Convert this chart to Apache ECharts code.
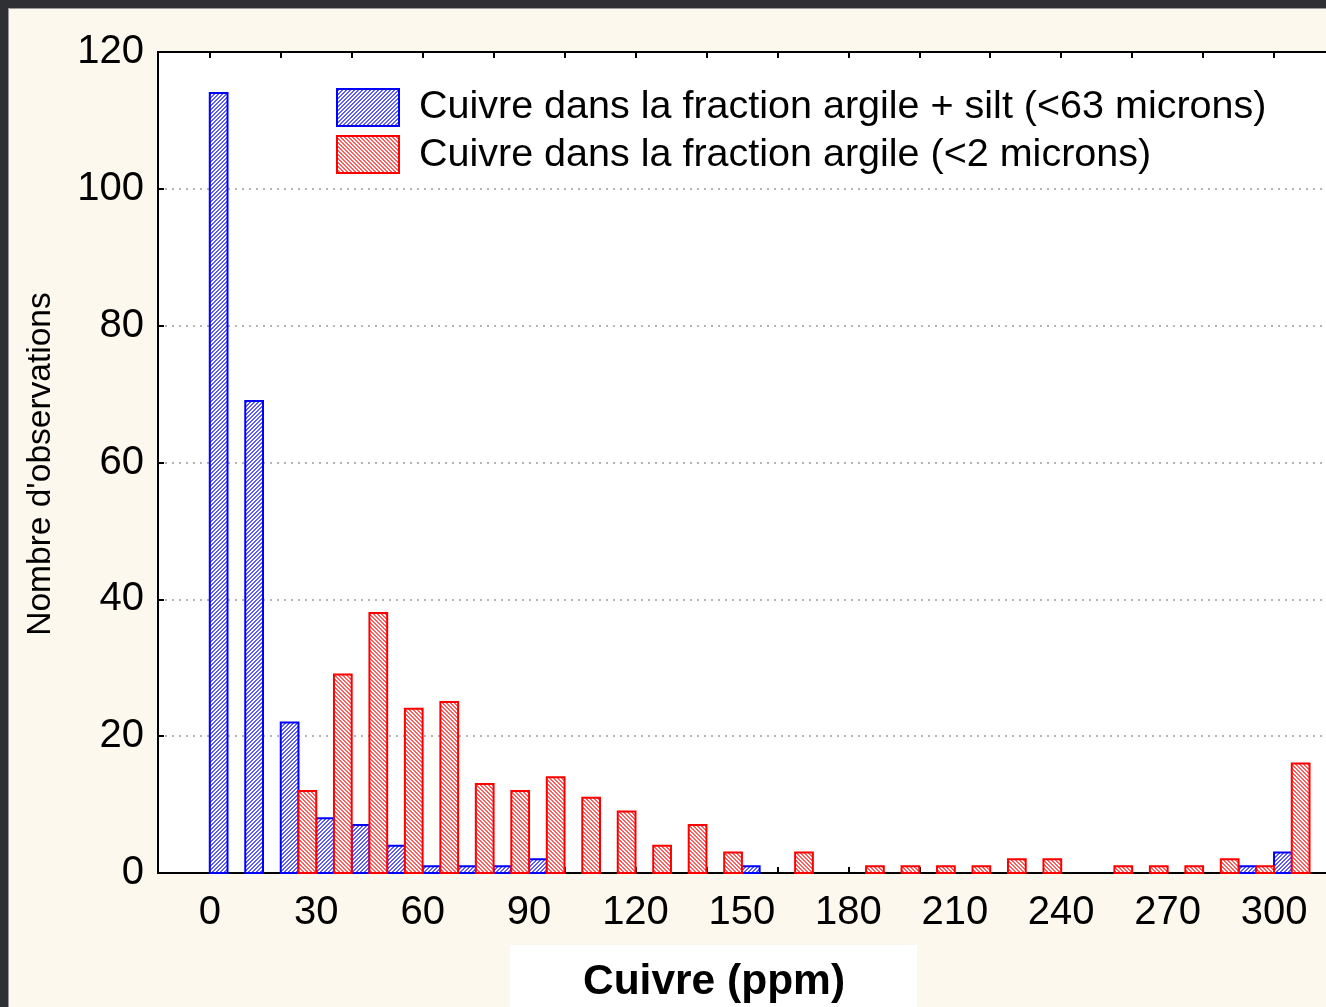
<!DOCTYPE html>
<html>
<head>
<meta charset="utf-8">
<script src="https://cdn.jsdelivr.net/npm/echarts@6/dist/echarts.min.js"></script>
<style>
  html, body { margin: 0; padding: 0; background: #fdf8ee; overflow: hidden; }
  /* plot frame runs past the right edge of the window, as in the source */
  #chart { width: 1345px; height: 1007px; }
</style>
</head>
<body>
<div id="chart"></div>
<script>
// histogram bins (lower edge, ppm), 10 ppm wide
const binStart = [0, 10, 20, 30, 40, 50, 60, 70, 80, 90, 100, 110, 120, 130, 140, 150,
  160, 170, 180, 190, 200, 210, 220, 230, 240, 250, 260, 270, 280, 290, 300];
// Cuivre dans la fraction argile + silt (<63 microns)
const siltClay = [114, 69, 22, 8, 7, 4, 1, 1, 1, 2, 0, 0, 0, 0, 0, 1,
  0, 0, 0, 0, 0, 0, 0, 0, 0, 0, 0, 0, 0, 1, 3];
// Cuivre dans la fraction argile (<2 microns)
const clay = [0, 0, 12, 29, 38, 24, 25, 13, 12, 14, 11, 9, 4, 7, 3, 0,
  3, 0, 1, 1, 1, 1, 2, 2, 0, 1, 1, 1, 2, 1, 16];
const xLabels = [0, 30, 60, 90, 120, 150, 180, 210, 240, 270, 300];
const xTicks = [0, 20, 40, 60, 80, 100, 120, 140, 160, 180, 200, 220, 240, 260, 280, 300, 320];
const seriesNames = [
  "Cuivre dans la fraction argile + silt (<63 microns)",
  "Cuivre dans la fraction argile (<2 microns)"
];

const FONT = "'Liberation Sans', Arial, sans-serif";
const HALF = 5; // each series takes half of a bin

// diagonal hatch tile, 4px period, stripes 2px thick
function hatch(color, rising) {
  const c = document.createElement("canvas");
  c.width = c.height = 4;
  const ctx = c.getContext("2d");
  ctx.fillStyle = "#fff";
  ctx.fillRect(0, 0, 4, 4);
  ctx.fillStyle = color;
  for (let i = 0; i < 4; i++) {
    const y = rising ? 3 - i : i;
    ctx.fillRect(i, y, 1, 1);
    ctx.fillRect(i, (y + 1) % 4, 1, 1);
  }
  return { image: c, repeat: "repeat" };
}

const bluePat = hatch("#5c5cff", true);
const redPat = hatch("#ff5c5c", false);

function barRenderer(offset, pattern, stroke) {
  return function (params, api) {
    const v = api.value(1);
    if (!v) return;
    const x0 = api.value(0) + offset;
    const p0 = api.coord([x0, 0]);
    const p1 = api.coord([x0 + HALF, v]);
    return {
      type: "rect",
      shape: { x: p0[0], y: p1[1], width: p1[0] - p0[0], height: p0[1] - p1[1] },
      style: { fill: pattern, stroke: stroke, lineWidth: 2 }
    };
  };
}

const chart = echarts.init(document.getElementById("chart"));

const xBase = {
  type: "value",
  min: -14.6,
  max: 320,
  splitLine: { show: false }
};
const tickStyle = { color: "#000", width: 2 };

chart.setOption({
  backgroundColor: "#fdf8ee",
  animation: false,
  grid: {
    left: 158, top: 52, right: 0, bottom: 134,
    show: true, backgroundColor: "#fff", borderColor: "#000", borderWidth: 2
  },
  xAxis: [
    Object.assign({}, xBase, {
      position: "bottom",
      axisLine: { show: true, onZero: false, lineStyle: tickStyle },
      axisTick: { show: true, inside: true, length: 6, customValues: xTicks, lineStyle: tickStyle },
      axisLabel: { customValues: xLabels, fontSize: 40, color: "#000", margin: 20, fontFamily: FONT }
    }),
    Object.assign({}, xBase, {
      position: "top",
      axisLine: { show: true, onZero: false, lineStyle: tickStyle },
      axisTick: { show: true, inside: true, length: 6, customValues: xTicks, lineStyle: tickStyle },
      axisLabel: { show: false }
    })
  ],
  yAxis: {
    type: "value",
    min: 0, max: 120, interval: 20,
    axisLine: { show: true, onZero: false, lineStyle: tickStyle },
    axisTick: { show: true, inside: true, length: 6, lineStyle: tickStyle },
    axisLabel: { fontSize: 40, color: "#000", margin: 14, fontFamily: FONT },
    splitLine: {
      show: true, showMinLine: false, showMaxLine: false,
      lineStyle: { type: [2, 5], color: "#b4b4b4", width: 2 }
    }
  },
  series: [
    {
      name: seriesNames[0],
      type: "custom",
      xAxisIndex: 0,
      encode: { x: 0, y: 1 },
      data: binStart.map((s, i) => [s, siltClay[i]]),
      renderItem: barRenderer(0, bluePat, "#0000ff")
    },
    {
      name: seriesNames[1],
      type: "custom",
      xAxisIndex: 0,
      encode: { x: 0, y: 1 },
      data: binStart.map((s, i) => [s, clay[i]]),
      renderItem: barRenderer(HALF, redPat, "#ff0000")
    }
  ],
  graphic: [
    // window frame
    { type: "rect", shape: { x: 0, y: 0, width: 1345, height: 8 }, style: { fill: "#2e3034" } },
    { type: "rect", shape: { x: 0, y: 0, width: 8, height: 1007 }, style: { fill: "#2e3034" } },
    { type: "rect", shape: { x: 8, y: 8, width: 1337, height: 1 }, style: { fill: "#9a9a9a" } },
    { type: "rect", shape: { x: 8, y: 8, width: 1, height: 999 }, style: { fill: "#9a9a9a" } },
    // legend
    { type: "rect", shape: { x: 337, y: 89, width: 62, height: 37 }, style: { fill: bluePat, stroke: "#0000ff", lineWidth: 2 } },
    { type: "rect", shape: { x: 337, y: 136, width: 62, height: 37 }, style: { fill: redPat, stroke: "#ff0000", lineWidth: 2 } },
    { type: "text", x: 419, y: 107, style: { text: seriesNames[0], fontSize: 39.5, fontFamily: FONT, fill: "#000", verticalAlign: "middle" } },
    { type: "text", x: 419, y: 155, style: { text: seriesNames[1], fontSize: 39.5, fontFamily: FONT, fill: "#000", verticalAlign: "middle" } },
    // axis titles
    { type: "text", x: 41, y: 464, rotation: Math.PI / 2,
      style: { text: "Nombre d'observations", fontSize: 33.5, fontFamily: FONT, fill: "#000", align: "center", verticalAlign: "middle" } },
    { type: "rect", shape: { x: 510, y: 945, width: 407, height: 62 }, style: { fill: "#fff" } },
    { type: "text", x: 714, y: 982,
      style: { text: "Cuivre (ppm)", fontSize: 42.5, fontWeight: "bold", fontFamily: FONT, fill: "#000", align: "center", verticalAlign: "middle" } }
  ]
});
</script>
</body>
</html>
